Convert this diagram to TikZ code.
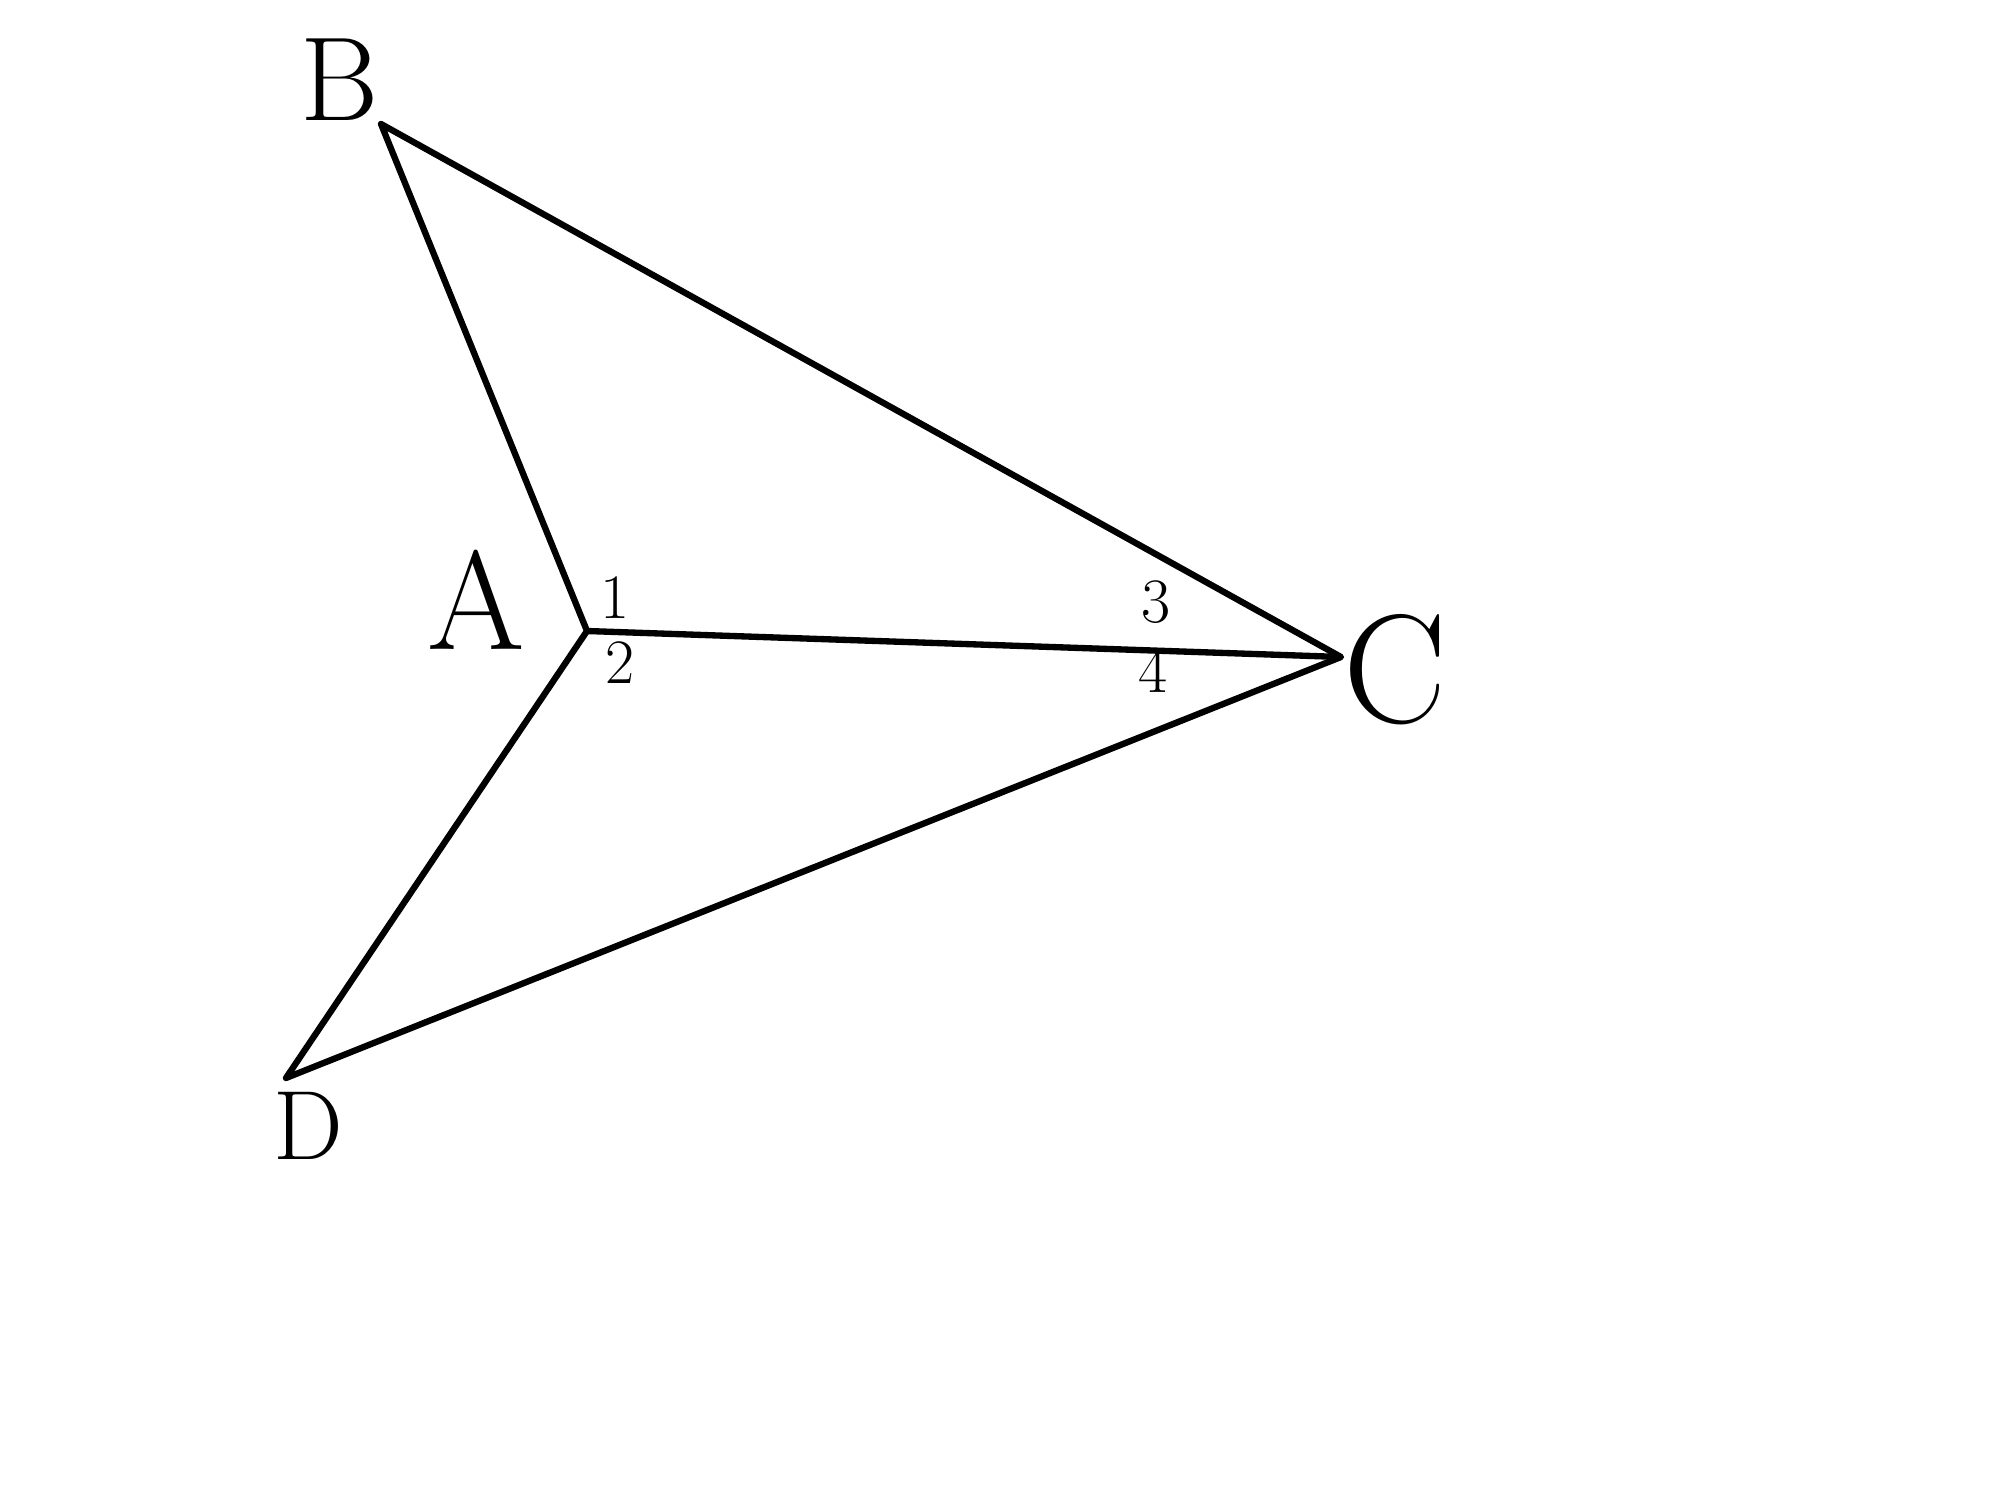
\documentclass[tikz,border=0pt]{standalone}
\begin{document}
\begin{tikzpicture}[line width=1.8pt,line join=round,
    pt/.style={font=\fontsize{40}{40}\selectfont},
    ang/.style={font=\fontsize{18}{18}\selectfont}]
    \useasboundingbox (0,0) rectangle (20,15);
    \coordinate (B) at (3.81,13.76);
    \coordinate (A) at (5.87,8.69);
    \coordinate (C) at (13.41,8.43);
    \coordinate (D) at (2.86,4.22);
    \draw (B) -- (A) -- (D) -- (C) -- cycle;
    \draw (A) -- (C);
    \node[pt,font=\fontsize{34}{34}\selectfont] (lB) at (3.40,14.20) {B};
    \node[pt] (lA) at (4.76,9.0) {A};
    \node[pt,font=\fontsize{44}{44}\selectfont] (lC) at (13.95,8.30) {C};
    \node[pt,font=\fontsize{28}{28}\selectfont] (lD) at (3.08,3.74) {D};
    \node[ang] (n1) at (6.15,9.02) {1};
    \node[ang] (n2) at (6.20,8.37) {2};
    \node[ang] (n3) at (11.56,8.98) {3};
    \node[ang] (n4) at (11.53,8.29) {4};
\end{tikzpicture}
\end{document}
